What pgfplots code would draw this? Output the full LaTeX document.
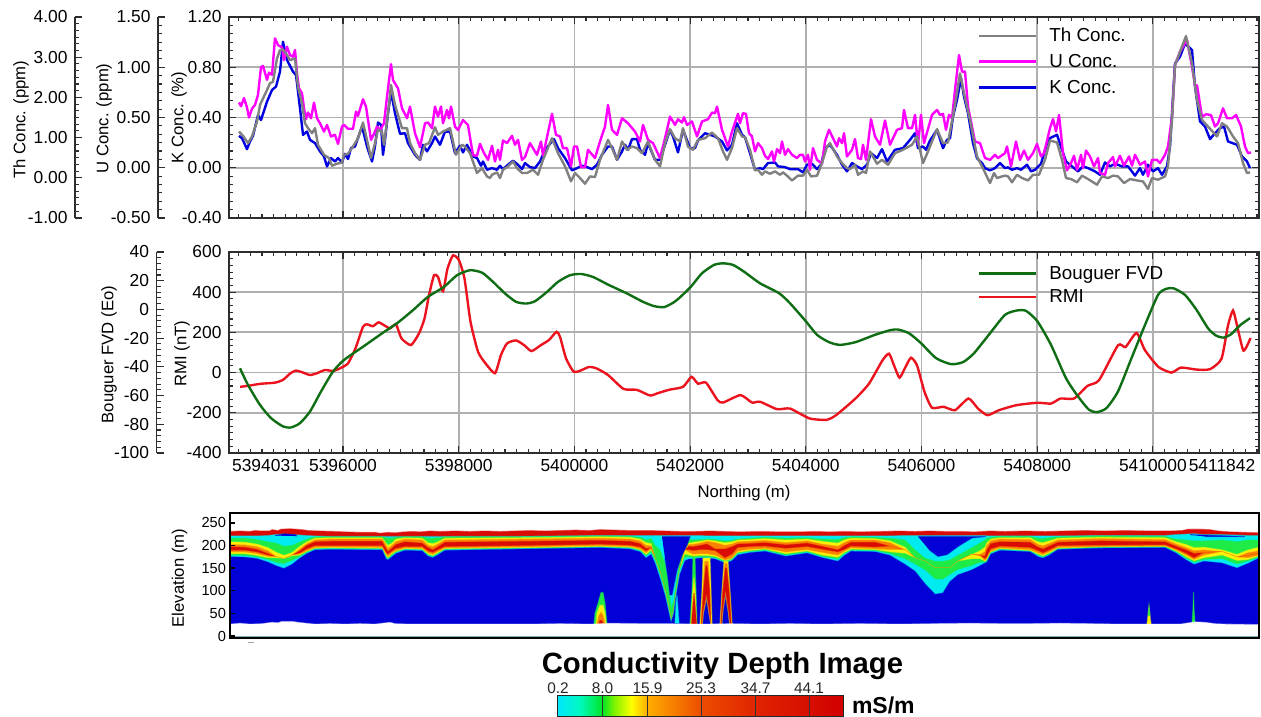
\documentclass[border=0pt]{standalone}
\usepackage{fontspec}
\setmainfont{Liberation Sans}
\usepackage{pgfplots}
\usepackage{pgfplotstable}
\pgfplotsset{compat=1.18}

\newcommand{\fs}[1]{\fontsize{#1}{#1}\selectfont}

\definecolor{gridgray}{RGB}{175,175,175}
\definecolor{spinec}{RGB}{45,45,45}
\definecolor{thc}{RGB}{128,128,128}
\definecolor{uc}{RGB}{255,0,255}
\definecolor{kc}{RGB}{0,0,225}
\definecolor{bougc}{RGB}{15,110,20}
\definecolor{rmic}{RGB}{235,20,30}
\definecolor{cBlue}{RGB}{0,0,215}
\definecolor{cCyan}{RGB}{0,235,240}
\definecolor{cGreen}{RGB}{30,235,70}
\definecolor{cYellow}{RGB}{250,240,10}
\definecolor{cOrange}{RGB}{250,130,0}
\definecolor{cRed}{RGB}{218,10,5}

% colour scale: 557 to 843 on the picture maps to 25bp..75bp
\pgfdeclarehorizontalshading{cdibar}{100bp}{
  rgb(0bp)=(0,.9,1); rgb(25bp)=(0,.9,1); rgb(29bp)=(0,.98,.75);
  rgb(32.9bp)=(0,.9,.15); rgb(35bp)=(.5,.95,0); rgb(38bp)=(1,1,0);
  rgb(40.8bp)=(1,.68,0); rgb(50.2bp)=(.93,.3,0); rgb(59.7bp)=(.88,.14,0);
  rgb(75bp)=(.82,0,0); rgb(100bp)=(.82,0,0)}

\pgfplotsset{
  panel/.style={scale only axis, width=1030pt, height=201pt,
    xmin=229, xmax=1259,
    xtick={343,458.7,574.4,690.1,805.8,921.5,1037.2,1152.9},
    minor xtick={238.87,250.44,...,1259}, minor y tick num=5,
    tick align=inside, major tick length=7pt, minor tick length=4pt,
    tick style={color=spinec, line width=1.1pt},
    axis line style={color=spinec, line width=1.4pt},
    grid=major, grid style={color=gridgray, line width=1.8pt},
    no markers, tick label style={font=\fs{17.4}},
    yticklabel style={xshift=-4pt},
    label style={font=\fs{16.7}},
    legend cell align=left,
    legend style={draw=none, fill=none, font=\fs{18.8}, inner sep=0pt,
      /tikz/column sep=0pt,
      nodes={inner xsep=12pt, inner ysep=0pt}},
    legend image code/.code={\draw[##1, line width=2.4pt] (0pt,0pt) -- (57pt,0pt);},
  },
  spine/.style={scale only axis, width=20pt, height=201pt,
    xmin=0, xmax=1, axis x line=none, axis y line*=left,
    tick align=inside, major tick length=7pt, minor tick length=4pt,
    tick style={color=spinec, line width=1.1pt},
    axis line style={color=spinec, line width=1.4pt},
    minor y tick num=5,
    tick label style={font=\fs{17.4}},
    yticklabel style={xshift=-4pt},
    label style={font=\fs{16.7}},
  },
  dec2/.style={/pgf/number format/.cd, fixed, fixed zerofill, precision=2, assume math mode=true},
  dec0/.style={/pgf/number format/.cd, fixed, precision=0, assume math mode=true},
  lay/.style={draw=#1, draw opacity=0.45, line width=1.2pt, fill=#1, fill opacity=1, forget plot},
}

% conductivity section, boundaries between colour bands (elevation, m)
\pgfplotstableread{
x Rb G Y O R R2 O2 Y2 G2 B
230 221 216 208 202 197 189 185 181 178 175
245 221 216 207 201 196 189 185 181 177 174
257 221 213 203 197 191 185 181 177 174 171
268 222 208 195 188 182 178 175 172 168 163
276 224 205 185 175 175 175 175 172 162 155
284 225 198 178 170 170 170 170 170 159 149
292 224 200 184 178 178 178 178 176 166 158
300 223 208 198 192 188 183 180 178 175 172
307 222 214 208 204 200 192 188 186 184 182
315 221 219 216 212 208 199 195 193 192 190
330 220 219 217 214 209 199 196 194 193 191
382 220 219 217 214 209 199 195 193 192 190
386 220 217 205 200 192 184 180 176 173 170
388 220 216 200 193 186 180 175 172 170 168
392 220 216 205 200 194 187 183 180 177 175
396 220 218 214 208 202 193 188 186 184 182
405 220 219 217 214 208 197 194 192 191 189
422 220 219 216 212 205 197 193 191 190 188
428 220 216 206 200 195 187 183 180 178 176
433 220 216 204 197 190 184 180 177 175 173
438 220 217 208 203 197 190 186 183 181 179
445 220 219 216 212 207 197 194 192 191 189
520 220 219 217 214 209 199 196 194 193 192
600 222 221 219 216 211 202 199 197 196 195
630 222 220 218 214 209 200 197 195 194 192
640 222 218 214 210 204 196 192 190 188 186
646 222 212 206 200 193 187 183 179 176 172
651 222 215 204 199 195 195 191 188 184 180
655 222 200 172 172 172 172 172 172 166 160
660 222 190 140 140 140 140 140 140 134 126
665 222 160 100 100 100 100 100 100 94 88
669 222 110 60 60 60 60 60 60 54 48
671 222 60 32 32 32 32 32 32 30 28
674 222 80 58 58 58 58 58 58 54 50
676 222 110 92 92 92 92 92 92 88 84
680 222 170 148 148 148 148 148 148 144 136
685 222 212 190 190 190 190 190 180 172 166
689 222 213 205 202 198 190 184 178 174 170
693 222 212 207 202 197 188 180 176 172 170
700 222 213 209 205 200 190 181 177 174 172
707 221 214 212 209 203 190 181 177 174 172
715 221 213 210 206 192 188 178 175 172 170
725 221 210 206 200 192 172 167 165 163 161
732 221 211 208 203 197 180 172 170 168 166
738 221 214 212 208 203 195 187 184 182 179
750 221 216 213 209 204 197 191 188 186 184
765 221 218 215 211 206 198 193 191 189 187
786 221 216 212 206 201 193 185 181 178 176
807 221 217 214 210 205 197 190 187 185 183
822 221 214 209 203 198 191 184 178 175 173
838 221 213 205 198 190 185 178 173 169 165
844 221 217 212 206 199 190 186 183 180 177
851 221 219 216 212 207 198 194 191 189 187
875 221 218 215 212 207 196 192 190 188 186
890 221 216 210 206 198 198 190 185 181 178
905 222 212 196 190 190 190 190 182 170 158
915 222 190 172 172 172 172 172 172 158 143
925 222 172 165 165 165 165 165 165 145 115
935 222 165 150 150 150 150 150 150 125 92
943 222 165 150 150 150 150 150 150 125 95
950 222 168 150 150 150 150 150 150 135 120
958 222 178 165 165 165 165 165 165 146 135
972 222 195 180 180 180 180 180 170 155 146
980 222 205 188 180 178 178 176 170 162 155
985 222 212 196 186 176 170 166 164 162 161
987 221 216 206 200 190 175 170 167 165 163
991 221 218 214 210 204 192 187 185 183 181
1000 221 220 217 214 208 198 194 192 191 189
1030 221 220 217 213 207 195 190 188 187 186
1038 221 216 208 202 196 188 183 180 178 175
1043 221 215 206 199 192 183 179 176 174 172
1049 221 217 210 204 198 189 185 182 180 178
1058 221 219 216 212 207 199 195 193 192 191
1100 222 221 218 215 210 200 197 196 195 194
1165 222 220 217 213 208 201 198 197 196 195
1176 224 214 208 203 198 192 189 187 185 183
1186 225 212 202 195 190 182 178 174 171 168
1194 226 210 195 188 182 172 168 165 162 158
1204 224 210 196 190 184 184 178 172 168 165
1222 224 212 190 186 186 186 186 178 170 161
1237 223 208 180 174 174 174 174 166 158 150
1248 222 212 190 184 178 178 172 168 165 160
1259 222 212 196 188 182 182 178 176 174 172
}\cdi

\begin{document}
\begin{tikzpicture}[x=1pt,y=1pt]
\path[use as bounding box] (0,0) rectangle (1261,717);

% ---- radiometrics, all three traces read against the K scale
\begin{axis}[spine, at={(75pt,499pt)}, ymin=-1, ymax=4, ytick={-1,0,1,2,3,4},
  yticklabel style={dec2}, ylabel={Th Conc. (ppm)},
  ylabel style={at={(axis description cs:-2.7,0.49)}, anchor=center}]
\end{axis}
\begin{axis}[spine, at={(158pt,499pt)}, ymin=-0.5, ymax=1.5, ytick={-0.5,0,0.5,1,1.5},
  yticklabel style={dec2}, ylabel={U Conc. (ppm)},
  ylabel style={at={(axis description cs:-2.7,0.495)}, anchor=center}]
\end{axis}
\begin{axis}[panel, at={(229pt,499pt)}, ymin=-0.4, ymax=1.2,
  ytick={-0.4,0,0.4,0.8,1.2}, yticklabel style={dec2}, xticklabels={},
  ylabel={K Conc. (\%)},
  ylabel style={at={(axis description cs:-0.0485,0.5)}, anchor=center},
  legend style={at={(axis description cs:0.727,0.945)}, anchor=north west, row sep=11pt}]
\addlegendimage{color=thc}
\addlegendentry{Th Conc.}
\addlegendimage{color=uc}
\addlegendentry{U Conc.}
\addlegendimage{color=kc}
\addlegendentry{K Conc.}
\addplot[forget plot, color=kc, line width=2.4pt, line join=round] coordinates {
(239,.254)(242,.235)(247,.148)(250,.209)(253,.254)(258,.42)(261,.38)(267,.526)(272,.619)(276,.646)
(280,.765)(283,1.003)(287,.857)(293,.765)(296,.738)(300,.474)(303,.262)(307,.288)(310,.222)(315,.196)
(320,.13)(324,.09)(327,.01)(331,.077)(335,.05)(338,.077)(342,.042)(345,.111)(348,.069)(351,.156)
(355,.169)(362,.328)(367,.169)(372,.05)(375,.169)(378,.36)(381,.341)(383,.103)(385,.222)(388,.434)
(391,.606)(395,.434)(400,.27)(405,.275)(408,.196)(415,.103)(420,.063)(423,.183)(427,.13)(432,.196)
(435,.249)(440,.183)(445,.288)(450,.288)(455,.116)(460,.175)(463,.122)(467,.183)(473,.09)(477,.077)
(481,.016)(483,.05)(487,-.016)
(492,-.003)(497,-.016)(500,.016)(503,-.011)(508,.024)(513,.056)(518,.024)(522,-.011)(525,.037)(530,.005)
(535,-.003)(540,.05)(545,.143)(554,.228)(558,.156)(565,.077)(572,-.021)(577,-.003)(582,.016)(587,.005)
(592,-.011)(597,.024)(602,.103)(608,.169)(612,.169)(617,.063)(622,.13)(625,.183)(628,.143)(632,.228)
(637,.228)(640,.143)(645,.103)(648,.196)(655,.063)(660,.063)(665,.183)(670,.302)(673,.249)(678,.122)
(683,.302)(690,.156)(695,.156)(698,.217)(705,.275)(710,.262)(715,.249)(722,.209)(727,.138)(732,.183)
(737,.354)(742,.262)
(745,.243)(750,.116)(755,-.016)(760,-.003)(763,-.011)(768,.037)(775,.042)(778,.011)(785,.005)(790,-.011)
(798,-.011)(803,-.037)(807,.024)(812,.032)(817,-.011)(821,.024)(825,.156)(830,.183)(837,.103)(842,.024)
(847,-.029)(852,.037)(857,.011)(862,-.011)(867,.024)(871,.116)(877,.077)(882,.148)(887,.05)(895,.143)
(903,.156)(910,.222)(915,.275)(918,.156)(923,.169)(926,.143)(930,.217)(937,.302)(943,.156)(947,.222)
(950,.235)(953,.407)(957,.54)(961,.712)(964,.566)(968,.434)(973,.196)(977,.077)(982,.037)(985,-.003)
(990,-.021)(995,-.003)(1000,.037)(1005,-.003)
(1008,.003)(1012,-.016)(1017,-.003)(1021,-.016)(1027,.024)(1031,-.029)(1035,-.016)(1041,.032)(1045,.143)
(1050,.236)(1057,.262)(1062,.143)(1066,.05)(1072,.011)(1078,-.029)(1083,.011)(1088,-.003)(1095,-.029)
(1100,-.056)(1105,.042)(1110,.011)(1115,.032)(1122,.011)(1128,.011)(1135,-.063)(1140,-.003)(1143,-.056)
(1148,.024)(1153,-.029)(1158,-.003)(1162,-.056)(1167,.011)(1170,.169)(1175,.83)(1180,.884)(1185,.989)
(1192,.937)(1195,.646)(1200,.369)(1205,.328)(1210,.228)(1215,.275)(1220,.315)(1224,.328)(1228,.209)
(1237,.183)(1242,.09)(1247,.05)(1250,-.003)};
\addplot[forget plot, color=uc, line width=2.4pt, line join=round] coordinates {
(239,.52)(241,.49)(244,.555)(247,.48)(249,.40)(252,.47)(255,.50)(258,.58)(261,.80)(263,.81)
(267,.70)(269,.757)(272,.74)(275,1.03)(278,.976)(282,.958)(284,.857)(287,.963)(290,.897)(293,.884)
(295,.937)(297,.75)(299,.632)(302,.593)(304,.474)(306,.386)(308,.44)(311,.394)(314,.519)(317,.394)
(320,.354)(324,.288)(327,.341)(331,.249)(335,.262)(338,.19)(342,.328)(344,.341)(348,.31)(353,.31)
(356,.447)(358,.413)(363,.545)(366,.487)(371,.222)(374,.27)(377,.328)(380,.30)(384,.354)(387,.566)
(391,.825)(393,.698)(398,.632)(402,.474)(407,.394)(410,.487)(415,.275)(420,.164)(425,.354)(428,.36)
(432,.315)(435,.487)(438,.407)(441,.487)(443,.354)(447,.46)(449,.394)(451,.487)(455,.328)(458,.30)
(463,.38)(468,.34)(473,.10)(477,.095)(480,.19)
(484,.116)(488,.063)(492,.175)(495,.05)(498,.143)(500,.063)(503,.217)(507,.196)(512,.254)(515,.183)
(518,.222)(522,.063)(525,.085)(530,.196)(537,.103)(541,.209)(543,.095)(552,.429)(556,.262)(560,.249)
(563,.156)(567,.156)(571,.011)(574,.169)(577,.169)(581,.005)(585,.005)(588,.143)(595,.077)(600,.209)
(605,.328)(608,.5)(612,.302)(617,.262)(622,.394)(628,.354)(635,.288)(640,.209)(643,.341)(648,.222)
(653,.196)(660,.077)(665,.235)(670,.407)(675,.341)(678,.386)(682,.36)(684,.402)(687,.341)(692,.368)
(697,.249)(702,.368)(708,.386)(712,.439)(715,.434)(717,.487)(722,.302)(728,.169)(732,.288)(738,.429)
(740,.354)
(743,.434)(746,.429)(749,.275)(752,.249)(755,.13)(758,.196)(762,.156)(765,.095)(768,.069)(772,.13)
(774,.05)(777,.148)(780,.116)(782,.209)(785,.103)(788,.148)(792,.103)(797,.077)(800,.103)(803,.103)
(805,.05)(808,.103)(810,-.016)(813,.156)(817,.063)(822,.032)(825,.209)(829,.302)(833,.235)(837,.169)
(839,.235)(842,.196)(844,.275)(847,.09)(852,.143)(855,.228)(858,.077)(861,.069)(863,.183)(866,.063)
(871,.386)(875,.249)(880,.183)(885,.376)(890,.183)(897,.302)(902,.315)(904,.46)(908,.315)(912,.315)
(915,.421)(918,.183)(921,.421)(924,.196)(932,.421)(937,.46)(940,.421)(943,.429)(946,.302)(949,.421)
(952,.394)(955,.619)(959,.897)(962,.765)(965,.765)(968,.487)(972,.328)(975,.209)(980,.196)(985,.077)
(990,.063)(995,.103)(998,.077)(1005,.116)
(1007,.169)(1011,.011)(1016,.209)(1020,.063)(1024,.137)(1028,.063)(1033,.116)(1037,.19)(1041,.09)(1044,.116)
(1050,.315)(1053,.387)(1056,.289)(1059,.42)(1063,.116)(1067,-.021)(1071,.037)(1074,.095)(1077,-.016)(1081,.103)
(1083,-.003)(1086,.137)(1090,.09)(1094,.011)(1098,.077)(1100,-.042)(1105,-.056)(1108,.037)(1113,.085)(1115,.011)
(1120,.095)(1124,.016)(1129,.09)(1132,.016)(1135,.103)(1140,.024)(1145,.05)(1148,-.069)(1152,.063)(1157,.063)
(1160,.037)(1165,.103)(1168,.169)(1172,.407)(1175,.817)(1180,.923)(1187,1.016)(1192,.804)(1195,.656)(1197,.656)
(1202,.405)(1206,.426)(1211,.419)(1215,.328)(1218,.354)(1223,.473)(1227,.394)(1232,.394)(1236,.42)(1241,.328)
(1245,.169)(1248,.116)(1251,.122)};
\addplot[forget plot, color=thc, line width=2.4pt, line join=round] coordinates {
(239,.288)(243,.254)(248,.196)(252,.249)(257,.368)(260,.5)(267,.619)(270,.672)(273,.685)(277,.87)
(280,.937)(283,.942)(287,.897)(290,.857)(295,.87)(298,.646)(302,.513)(305,.354)(308,.315)(312,.275)
(315,.315)(318,.183)(324,.103)(329,.077)(332,.016)(337,.032)(342,.042)(344,.103)(348,.111)(353,.169)
(358,.235)(363,.36)(367,.222)(371,.077)(375,.196)(378,.302)(382,.288)(384,.183)(388,.434)(391,.659)
(395,.5)(402,.315)(407,.315)(410,.196)(415,.116)(420,.063)(425,.183)(429,.196)(435,.323)(438,.262)
(443,.288)(450,.315)(456,.103)(462,.183)(465,.169)(470,.116)(477,-.042)(482,-.003)(487,-.069)(490,-.082)
(492,-.056)(497,-.037)(500,-.082)(503,-.016)(508,.011)(513,.05)(517,-.003)(522,-.042)(527,-.042)(530,-.029)
(533,-.016)(538,-.056)(543,.063)(552,.235)(558,.116)(565,.011)(571,-.108)(575,-.042)(580,-.082)(585,-.127)
(590,-.069)(595,-.074)(600,.063)(608,.222)(612,.156)(617,.063)(622,.209)(627,.143)(632,.169)(637,.156)
(642,.116)(648,.209)(655,.063)(660,.011)(665,.196)(670,.307)(675,.235)(680,.209)(683,.315)(688,.169)
(693,.143)(698,.222)(705,.235)(712,.28)(718,.235)(723,.13)(727,.063)(732,.156)(737,.315)(742,.249)
(745,.243)(750,.143)(755,-.021)(758,-.016)(762,-.056)(765,-.029)(770,-.048)(775,-.029)(780,-.056)(783,-.037)
(787,-.063)(792,-.101)(798,-.063)(803,-.063)(807,-.016)(811,-.069)(817,-.063)(822,.037)(827,.169)(830,.196)
(837,.09)(842,.037)(847,-.003)(850,-.011)(855,.024)(858,-.056)(863,-.029)(866,-.042)(870,.13)(877,.032)
(882,.063)(888,.024)(895,.116)(903,.143)(912,.183)(917,.249)(923,.037)(928,.13)(937,.307)(943,.196)
(948,.201)(955,.5)(960,.751)(964,.593)(970,.381)(977,.09)(982,.011)(990,-.122)(994,-.042)(997,-.082)
(1002,-.069)(1005,-.063)
(1008,-.069)(1012,-.116)(1017,-.056)(1022,-.082)(1028,-.101)(1033,-.056)(1039,-.056)(1045,.063)(1050,.217)
(1057,.201)(1062,.063)(1066,-.082)(1071,-.09)(1077,-.116)(1082,-.063)(1088,-.09)(1097,-.135)(1102,-.069)
(1108,-.082)(1113,-.063)(1118,-.069)(1124,-.122)(1130,-.09)(1137,-.101)(1143,-.109)(1148,-.169)(1152,-.082)
(1158,-.095)(1165,-.069)(1168,.011)(1172,.381)(1175,.817)(1180,.923)(1186,1.048)(1192,.83)(1197,.54)
(1202,.381)(1208,.328)(1217,.249)(1222,.354)(1227,.328)(1233,.249)(1238,.196)(1243,.037)(1247,-.042)(1250,-.037)};
\end{axis}

% ---- RMI and Bouguer first vertical derivative
\begin{axis}[spine, at={(156.6pt,264pt)}, ymin=-100, ymax=40, ytick={-100,-80,...,40},
  minor y tick num=4, yticklabel style={dec0}, ylabel={Bouguer FVD (Eo)},
  ylabel style={at={(axis description cs:-2.38,0.49)}, anchor=center}]
\end{axis}
\begin{axis}[panel, at={(229pt,264pt)}, ymin=-400, ymax=600,
  ytick={-400,-200,0,200,400,600}, yticklabel style={dec0},
  xticklabels={5396000,5398000,5400000,5402000,5404000,5406000,5408000,5410000},
  extra x ticks={266,1222}, extra x tick labels={5394031,5411842},
  extra x tick style={major tick length=0pt, grid=none},
  xticklabel style={yshift=-3pt},
  xlabel={Northing (m)},
  xlabel style={at={(axis description cs:0.5,-0.2)}, anchor=center},
  ylabel={RMI (nT)},
  ylabel style={at={(axis description cs:-0.0455,0.495)}, anchor=center},
  legend style={at={(axis description cs:0.727,0.93)}, anchor=north west, row sep=9pt}]
\addlegendimage{color=bougc}
\addlegendentry{Bouguer FVD}
\addlegendimage{color=rmic}
\addlegendentry{RMI}
\addplot[forget plot, color=rmic, line width=2.4pt, smooth, tension=0.35] coordinates {
(240,-71)(248,-66)(260,-56)(275,-50)(283,-36)(290.5,-3)(296,10)(302,2)(310,-12)(317,-3)
(325,13)(333,8)(340,21)(348,46)(355.5,121)(363,228)(367,240)(373,231)(378.5,250)(384,236)
(390,220)(396,240)(401.5,170)(411,137)(419,195)(424.5,269)(429,385)(434,484)(438,476)(443,405)
(447.5,517)(453,583)(459,559)(464.5,468)(470.5,253)(478,104)(485.5,46)(495,-3)(501,88)(507,145)
(516,160)(524,137)(531.5,107)(541,137)(549,162)(556.5,203)(560,178)(566,71)(573.5,5)(579.5,8)
(589,28)(596.5,21)(608,-12)(623.5,-81)(637,-86)(650,-114)(658,-102)(669.5,-85)(683,-71)(691.5,-21)
(698,-55)(706,-50)(717.5,-137)(723,-149)(740.5,-112)(752,-149)(760,-145)(777,-182)(790,-179)(809.5,-228)
(826.5,-235)(836,-212)(855.5,-129)(869,-55)(882.5,61)(889,94)(894,36)(899.5,-25)(905.5,28)(911,74)
(917,36)(924.5,-96)(932,-175)(943.5,-170)(955,-187)(968.5,-129)(978,-179)(987.5,-212)(999,-187)(1016.5,-162)
(1037.5,-150)(1051,-154)(1060.5,-129)(1074,-129)(1087.5,-66)(1099,-38)(1118,136)(1125.5,127)(1136.5,197)(1145,111)
(1158.5,28)(1171.5,0)(1181,25)(1196.5,15)(1210,17)(1221.5,69)(1228,235)(1233,309)(1237,235)(1243.5,109)(1250.5,172)};
\end{axis}
\begin{axis}[scale only axis, width=1030pt, height=201pt, at={(229pt,264pt)},
  hide axis, no markers, xmin=229, xmax=1259, ymin=-100, ymax=40]
\addplot[color=bougc, line width=2.4pt, smooth, tension=0.4] coordinates {
(240,-41)(248,-52.6)(260,-66.5)(271,-75.7)(283,-81.5)(291,-82.2)(300,-79.2)(310,-71.1)(321,-57.2)(333,-43.3)
(344,-35.2)(363,-26)(382,-16.7)(398,-9.1)(413,-.5)(428,8.8)(444,15.7)(457,23.8)(470,27.3)(482,25.6)
(493,19.2)(505,11.1)(516,5.3)(526,4.1)(535,5.7)(547,12.2)(558,19.2)(570,23.8)(581,24.7)(593,22.6)
(608,17.3)(627,11.1)(643,5.3)(654,2.3)(664,1.6)(673,4.6)(679,7.8)(691,15.9)(702,25.2)(714,31)
(723,32.1)(733,31)(744,26.3)(760,18.2)(779,11.3)(790,4.3)(806,-8.4)(817,-17.7)(829,-22.8)(840,-24.7)
(855.5,-22.8)(875,-17.7)(890,-14.5)(898,-14)(909,-16.6)(921,-23.5)(936,-33.9)(951,-38.1)(963,-36.7)(974,-30.5)
(990,-16.6)(1005,-3.8)(1016.5,-.8)(1026,-1)(1037.5,-8.4)(1051,-24.7)(1066,-47.9)(1078,-60.6)(1089,-69.9)(1097,-71.5)
(1106.5,-68.7)(1118,-57.1)(1131.5,-33.9)(1145,-10.8)(1158,10.1)(1166,14.3)(1173.5,14.7)(1185,10.1)(1196.5,-.3)(1208,-13.1)
(1216,-18.2)(1223.5,-19.6)(1231,-17.3)(1240.5,-10.8)(1250,-6.1)};
\end{axis}

% ---- conductivity depth section, painted from the top band downwards
\begin{axis}[scale only axis, width=1029pt, height=125pt, at={(230pt,79pt)},
  xmin=230, xmax=1259, ymin=-4.4, ymax=272, xtick=\empty,
  ytick={0,50,...,250}, ytick pos=left, tick align=inside, major tick length=5pt,
  tick style={color=black, line width=1.4pt},
  axis line style={color=black, line width=1.8pt}, axis on top, no markers,
  yticklabel style={font=\fs{14.6}, /pgf/number format/assume math mode=true, xshift=-0.5pt},
  ylabel={Elevation (m)}, label style={font=\fs{16.7}},
  ylabel style={at={(axis description cs:-0.049,0.48)}, anchor=center}]
\addplot[lay=cRed] coordinates {
(230,231)(240,232)(250,231)(255,233)(262,232)(270,232)(272,235)(278,233)(281,236)(290,237)
(296,236)(302,235)(308,233)(320,232)(335,231)(345,230)(360,229)(375,229)(380,227)(388,229)
(395,228)(404,230)(412,231)(420,230)(430,232)(440,231)(455,232)(470,231)(485,232)(500,231)
(515,232)(530,233)(545,232)(560,233)(575,234)(590,233)(600,235)(615,234)(630,233)(650,233)
(665,232)(680,231)(695,231)(710,232)(725,231)(740,230)(760,231)(780,230)(800,230)(815,231)
(830,230)(845,231)(860,230)(880,231)(900,232)(915,231)(930,232)(945,231)(960,231)(975,230)
(990,232)(1005,231)(1025,232)(1045,231)(1065,232)(1085,233)(1105,232)(1125,233)(1150,232)(1170,232)
(1182,233)(1188,236)(1200,236)(1210,235)(1218,232)(1230,230)(1245,229)(1259,228)} \closedcycle;
\addplot[lay=cCyan] table[x=x,y=Rb]{\cdi} \closedcycle;
\addplot[lay=cGreen] table[x=x,y=G]{\cdi} \closedcycle;
\addplot[lay=cYellow] table[x=x,y=Y]{\cdi} \closedcycle;
\addplot[lay=cOrange] table[x=x,y=O]{\cdi} \closedcycle;
\addplot[lay=cRed] table[x=x,y=R]{\cdi} \closedcycle;
\addplot[lay=cOrange] table[x=x,y=R2]{\cdi} \closedcycle;
\addplot[lay=cYellow] table[x=x,y=O2]{\cdi} \closedcycle;
\addplot[lay=cGreen] table[x=x,y=Y2]{\cdi} \closedcycle;
\addplot[lay=cCyan] table[x=x,y=G2]{\cdi} \closedcycle;
\addplot[lay=cBlue] table[x=x,y=B]{\cdi} \closedcycle;
% blue wedges reaching the top of the section
\addplot[lay=cBlue] coordinates {(662,220)(690,220)(687,201)(682,179)(677,146)(672,91)(670,91)(668,128)(665,172)};
\addplot[lay=cBlue] coordinates {(918,220)(986,220)(972,217)(958,198)(947,180)(938,176)(929,191)};
\addplot[lay=cBlue] coordinates {(275,222)(285,226)(295,224)(297,221)};
\addplot[lay=cBlue] coordinates {(1190,224)(1205,223)(1245,220)(1205,220)};
% conductors at depth
\addplot[lay=cGreen] coordinates {(594,26)(595,50)(598,72)(601,96)(603,96)(605,72)(607,26)};
\addplot[lay=cYellow] coordinates {(596,26)(597,50)(600,68)(603,68)(605,50)(606,26)};
\addplot[lay=cOrange] coordinates {(597,26)(599,45)(601,52)(603,45)(605,26)};
\addplot[lay=cRed] coordinates {(599,26)(600,34)(602,34)(603,26)};
\addplot[lay=cCyan] coordinates {(675,28)(676,70)(677,90)(678,60)(679,28)};
\addplot[lay=cGreen] coordinates {(690,27)(692,100)(693,172)(695,172)(696,100)(697,27)};
\addplot[lay=cYellow] coordinates {(691,27)(692.5,90)(694,130)(695.5,90)(696.5,27)};
\addplot[lay=cRed] coordinates {(691.5,27)(693,70)(694,95)(695,70)(696.5,27)};
\addplot[lay=cYellow] coordinates {(700,27)(702,100)(703,172)(710,172)(711,100)(712,27)};
\addplot[lay=cOrange] coordinates {(701,27)(703,100)(705,165)(708,165)(710,100)(711,27)};
\addplot[lay=cRed] coordinates {(701.5,27)(703.5,100)(706,155)(707,155)(709.5,100)(710.5,27)};
\addplot[lay=cYellow] coordinates {(702.5,27)(703.5,52)(706.5,84)(708.5,56)(710.3,27)};
\addplot[lay=cBlue] coordinates {(703,27)(704,50)(706.5,77)(708,55)(710,27)};
\addplot[lay=cYellow] coordinates {(720,27)(722,100)(724,165)(728,165)(730,100)(732,27)};
\addplot[lay=cOrange] coordinates {(720.5,27)(722.5,100)(725,160)(727,160)(729.5,100)(731.5,27)};
\addplot[lay=cRed] coordinates {(721,27)(723,100)(725.5,150)(726.5,150)(729,100)(731,27)};
\addplot[lay=cYellow] coordinates {(722,27)(723,55)(725.5,90)(728,55)(729.5,27)};
\addplot[lay=cBlue] coordinates {(722.5,27)(723.5,55)(725.5,83)(727.5,55)(729,27)};
\addplot[lay=cYellow] coordinates {(1147,26)(1148,45)(1149,65)(1150,45)(1151,26)};
\addplot[lay=cGreen] coordinates {(1148,45)(1149,65)(1150,45)};
\addplot[lay=cGreen] coordinates {(1192,27)(1193,60)(1193.5,97)(1194,60)(1195,27)};
% white below the depth of investigation
\addplot[lay=white] coordinates {
(230,26)(240,28)(250,26)(262,27)(272,30)(278,29)(282,32)(292,32)(298,30)(306,28)(315,26)
(330,27)(345,26)(360,27)(375,26)(390,30)(395,27)(410,26)(430,26)(455,26)(480,26)(500,26)
(530,26)(560,27)(590,26)(610,28)(640,27)(670,27)(700,26)(730,27)(760,26)(790,27)(820,26)
(860,27)(900,26)(935,27)(970,28)(1000,27)(1030,27)(1060,28)(1090,27)(1120,26)(1150,26)
(1180,26)(1186,28)(1195,31)(1205,30)(1215,27)(1225,26)(1259,25)} \closedcycle;
\end{axis}
\draw[gray!70, line width=.6pt] (248,75) -- (254,75);

% ---- colour scale, cut by the bottom edge of the figure
\node[font=\fs{29.3}\bfseries, anchor=center] at (722.5,51.5) {Conductivity Depth Image};
\begin{axis}[scale only axis, width=286pt, height=21pt, at={(557pt,0pt)},
  xmin=557, xmax=843, ymin=0, ymax=1, ytick=\empty, axis on top,
  xtick={558,602.5,647.5,701,755.5,809}, xtick pos=upper, tick style={draw=none},
  xticklabels={0.2,8.0,15.9,25.3,34.7,44.1},
  xticklabel style={font=\fs{15.4}, yshift=-1.5pt, color=black!85},
  axis line style={color=black!85, line width=1pt}]
\shade[shading=cdibar] (axis cs:557,0) rectangle (axis cs:843,1);
\addplot[color=black!80, line width=.8pt, forget plot] coordinates {(602.5,0)(602.5,1)};
\addplot[color=black!80, line width=.8pt, forget plot] coordinates {(647.5,0)(647.5,1)};
\addplot[color=black!80, line width=.8pt, forget plot] coordinates {(701,0)(701,1)};
\addplot[color=black!80, line width=.8pt, forget plot] coordinates {(755.5,0)(755.5,1)};
\addplot[color=black!80, line width=.8pt, forget plot] coordinates {(809,0)(809,1)};
\end{axis}
\node[font=\fs{23}\bfseries, anchor=west] at (848.5,12) {mS/m};
\end{tikzpicture}
\end{document}
